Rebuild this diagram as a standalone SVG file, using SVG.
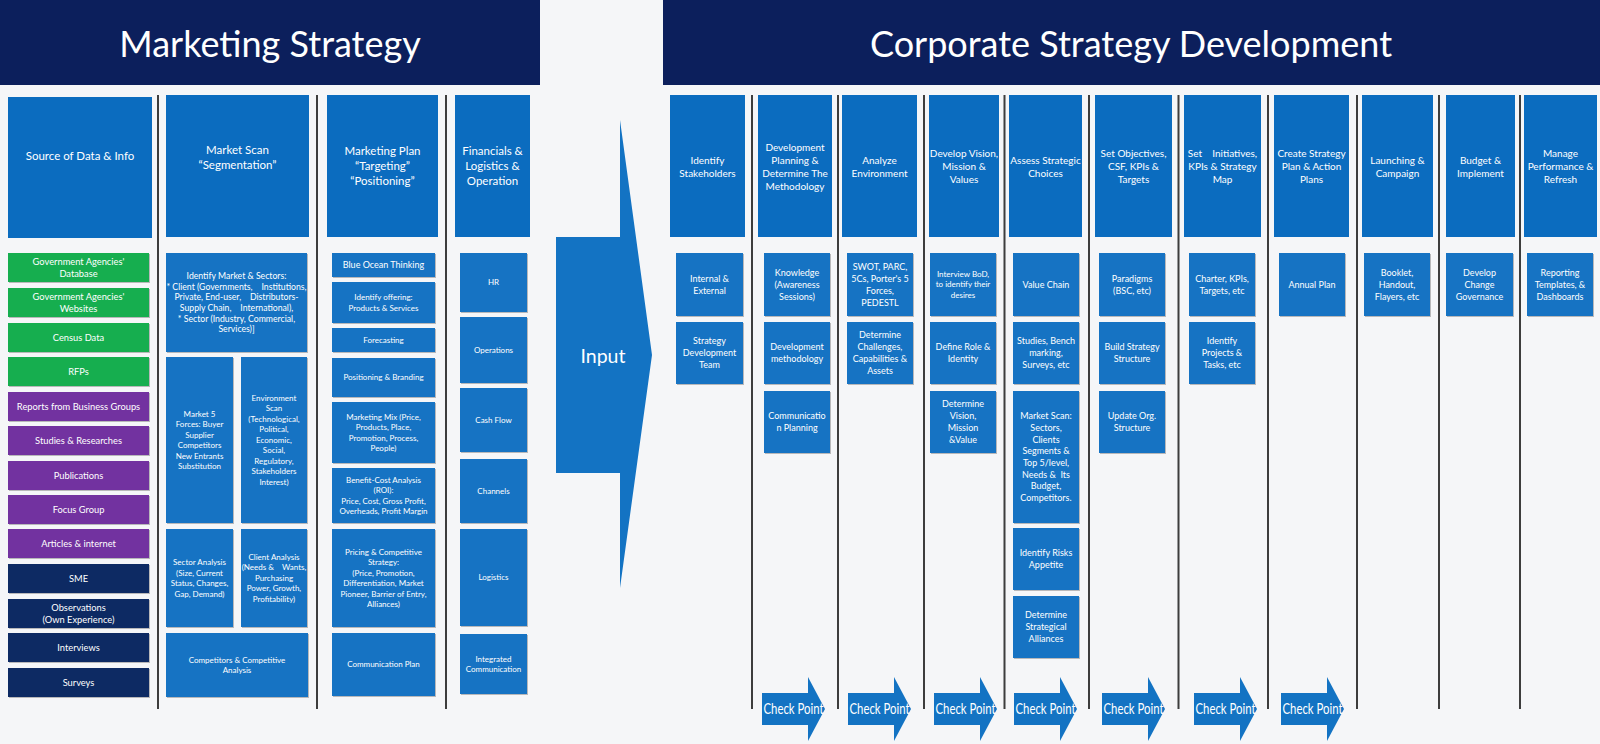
<svg xmlns="http://www.w3.org/2000/svg" width="1600" height="744" viewBox="0 0 1600 744">
<defs>
<style>
.bg{fill:#f5f6f8}
.bar{fill:#0c1f5c}
.hdr{fill:#0b6cbf}
.sub{fill:#1373c3;filter:url(#sh)}
.green{fill:#14ae50;filter:url(#sh)}
.purple{fill:#7232a0;filter:url(#sh)}
.navy{fill:#112b63;filter:url(#sh)}
.arrow{fill:#1373c3}
text{font-family:Lato,"Liberation Sans",sans-serif;fill:#ffffff;text-anchor:middle}
.title{font-size:36px}
.lh{font-size:11.5px}
.ch{font-size:10px}
.s93{font-size:9.3px}
.s87{font-size:8.7px}
.s9{font-size:9px}
.s8{font-size:8px}
.inp{font-size:19.5px}
.cp{font-size:15px}
.sep{stroke:#3d3d3d;stroke-width:2}
</style>
<filter id="sh" x="-5%" y="-5%" width="115%" height="115%">
<feDropShadow dx="1" dy="1" stdDeviation="0.6" flood-color="#000" flood-opacity="0.25"/>
</filter>
<path id="cpArrow" d="M0,16 H46 V0 L63,32 L46,64 V48 H0 Z"/>
</defs>
<rect class="bg" x="0" y="0" width="1600" height="744"/>

<g id="title-marketing"><rect class="bar" x="0" y="0" width="540" height="85"/><text class="title" x="270" y="57">Marketing Strategy</text></g>
<g id="title-corporate"><rect class="bar" x="663" y="0" width="937" height="85"/><text class="title" x="1131" y="57">Corporate Strategy Development</text></g>

<g id="separators">
<line class="sep" x1="158" y1="95" x2="158" y2="709"/>
<line class="sep" x1="317" y1="95" x2="317" y2="709"/>
<line class="sep" x1="446" y1="95" x2="446" y2="709"/>
<line class="sep" x1="752" y1="95" x2="752" y2="709"/>
<line class="sep" x1="838" y1="95" x2="838" y2="709"/>
<line class="sep" x1="924" y1="95" x2="924" y2="709"/>
<line class="sep" x1="1004.5" y1="95" x2="1004.5" y2="709"/>
<line class="sep" x1="1089" y1="95" x2="1089" y2="709"/>
<line class="sep" x1="1178.5" y1="95" x2="1178.5" y2="709"/>
<line class="sep" x1="1268" y1="95" x2="1268" y2="709"/>
<line class="sep" x1="1357" y1="95" x2="1357" y2="709"/>
<line class="sep" x1="1439" y1="95" x2="1439" y2="709"/>
<line class="sep" x1="1520" y1="95" x2="1520" y2="709"/>
</g>

<!-- Marketing column headers -->
<g id="h-source"><rect class="hdr" x="8" y="97" width="144" height="141"/><text class="lh" x="80" y="160">Source of Data &amp; Info</text></g>
<g id="h-marketscan"><rect class="hdr" x="166" y="95" width="143" height="142"/><text class="lh" x="237.5" y="154">Market Scan<tspan x="237.5" dy="15">“Segmentation”</tspan></text></g>
<g id="h-marketingplan"><rect class="hdr" x="327" y="95" width="111" height="142"/><text class="lh" x="382.5" y="155">Marketing Plan<tspan x="382.5" dy="15">“Targeting”</tspan><tspan x="382.5" dy="15">“Positioning”</tspan></text></g>
<g id="h-financials"><rect class="hdr" x="455" y="95" width="75" height="142"/><text class="lh" x="492.5" y="155">Financials &amp;<tspan x="492.5" dy="15">Logistics &amp;</tspan><tspan x="492.5" dy="15">Operation</tspan></text></g>

<!-- Column 1: sources -->
<g id="src-gov-db"><rect class="green" x="8" y="253" width="141" height="29"/><text class="s93" x="78.5" y="264.9">Government Agencies'<tspan x="78.5" dy="11.7">Database</tspan></text></g>
<g id="src-gov-web"><rect class="green" x="8" y="288" width="141" height="29"/><text class="s93" x="78.5" y="299.9">Government Agencies'<tspan x="78.5" dy="11.7">Websites</tspan></text></g>
<g id="src-census"><rect class="green" x="8" y="323" width="141" height="29"/><text class="s93" x="78.5" y="340.8">Census Data</text></g>
<g id="src-rfps"><rect class="green" x="8" y="357" width="141" height="29"/><text class="s93" x="78.5" y="374.8">RFPs</text></g>
<g id="src-reports"><rect class="purple" x="8" y="392" width="141" height="29"/><text class="s93" x="78.5" y="409.8">Reports from Business Groups</text></g>
<g id="src-studies"><rect class="purple" x="8" y="426" width="141" height="29"/><text class="s93" x="78.5" y="443.8">Studies &amp; Researches</text></g>
<g id="src-publications"><rect class="purple" x="8" y="461" width="141" height="29"/><text class="s93" x="78.5" y="478.8">Publications</text></g>
<g id="src-focus"><rect class="purple" x="8" y="495" width="141" height="29"/><text class="s93" x="78.5" y="512.8">Focus Group</text></g>
<g id="src-articles"><rect class="purple" x="8" y="529" width="141" height="29"/><text class="s93" x="78.5" y="546.8">Articles &amp; internet</text></g>
<g id="src-sme"><rect class="navy" x="8" y="564" width="141" height="29"/><text class="s93" x="78.5" y="581.8">SME</text></g>
<g id="src-observations"><rect class="navy" x="8" y="599" width="141" height="29"/><text class="s93" x="78.5" y="610.9">Observations<tspan x="78.5" dy="11.7">(Own Experience)</tspan></text></g>
<g id="src-interviews"><rect class="navy" x="8" y="633" width="141" height="29"/><text class="s93" x="78.5" y="650.8">Interviews</text></g>
<g id="src-surveys"><rect class="navy" x="8" y="668" width="141" height="29"/><text class="s93" x="78.5" y="685.8">Surveys</text></g>

<!-- Column 2: market scan -->
<g id="ms-identify"><rect class="sub" x="166" y="253" width="141" height="99"/><text class="s87" x="236.5" y="278.8">Identify Market &amp; Sectors:<tspan x="236.5" dy="10.7">* Client (Governments,&#160;&#160;&#160; Institutions,</tspan><tspan x="236.5" dy="10.7">Private, End-user,&#160;&#160;&#160; Distributors-</tspan><tspan x="236.5" dy="10.7">Supply Chain,&#160;&#160;&#160; International),</tspan><tspan x="236.5" dy="10.7">* Sector (Industry, Commercial,</tspan><tspan x="236.5" dy="10.7">Services)]</tspan></text></g>
<g id="ms-five-forces"><rect class="sub" x="166" y="357" width="67" height="166"/><text class="s8" x="199.5" y="416.5">Market 5<tspan x="199.5" dy="10.5">Forces: Buyer</tspan><tspan x="199.5" dy="10.5">Supplier</tspan><tspan x="199.5" dy="10.5">Competitors</tspan><tspan x="199.5" dy="10.5">New Entrants</tspan><tspan x="199.5" dy="10.5">Substitution</tspan></text></g>
<g id="ms-env-scan"><rect class="sub" x="241" y="357" width="66" height="166"/><text class="s8" x="274" y="400.8">Environment<tspan x="274" dy="10.5">Scan</tspan><tspan x="274" dy="10.5">(Technological,</tspan><tspan x="274" dy="10.5">Political,</tspan><tspan x="274" dy="10.5">Economic,</tspan><tspan x="274" dy="10.5">Social,</tspan><tspan x="274" dy="10.5">Regulatory,</tspan><tspan x="274" dy="10.5">Stakeholders</tspan><tspan x="274" dy="10.5">Interest)</tspan></text></g>
<g id="ms-sector"><rect class="sub" x="166" y="529" width="67" height="98"/><text class="s8" x="199.5" y="565.1">Sector Analysis<tspan x="199.5" dy="10.5">(Size, Current</tspan><tspan x="199.5" dy="10.5">Status, Changes,</tspan><tspan x="199.5" dy="10.5">Gap, Demand)</tspan></text></g>
<g id="ms-client"><rect class="sub" x="241" y="529" width="66" height="98"/><text class="s8" x="274" y="559.8">Client Analysis<tspan x="274" dy="10.5">(Needs &amp;&#160;&#160;&#160; Wants,</tspan><tspan x="274" dy="10.5">Purchasing</tspan><tspan x="274" dy="10.5">Power, Growth,</tspan><tspan x="274" dy="10.5">Profitability)</tspan></text></g>
<g id="ms-competitors"><rect class="sub" x="166" y="633" width="142" height="64"/><text class="s8" x="237" y="662.6">Competitors &amp; Competitive<tspan x="237" dy="10.5">Analysis</tspan></text></g>

<!-- Column 3: marketing plan -->
<g id="mp-blue-ocean"><rect class="sub" x="332" y="253" width="103" height="24"/><text class="s9" x="383.5" y="268.2">Blue Ocean Thinking</text></g>
<g id="mp-offering"><rect class="sub" x="332" y="282" width="103" height="41"/><text class="s8" x="383.5" y="300">Identify offering:<tspan x="383.5" dy="10.5">Products &amp; Services</tspan></text></g>
<g id="mp-forecasting"><rect class="sub" x="332" y="328" width="103" height="24"/><text class="s8" x="383.5" y="342.8">Forecasting</text></g>
<g id="mp-positioning"><rect class="sub" x="332" y="358" width="103" height="39"/><text class="s8" x="383.5" y="380.3">Positioning &amp; Branding</text></g>
<g id="mp-mix"><rect class="sub" x="332" y="402" width="103" height="61"/><text class="s8" x="383.5" y="419.6">Marketing Mix (Price,<tspan x="383.5" dy="10.5">Products, Place,</tspan><tspan x="383.5" dy="10.5">Promotion, Process,</tspan><tspan x="383.5" dy="10.5">People)</tspan></text></g>
<g id="mp-benefit-cost"><rect class="sub" x="332" y="468" width="103" height="55"/><text class="s8" x="383.5" y="482.6">Benefit-Cost Analysis<tspan x="383.5" dy="10.5">(ROI):</tspan><tspan x="383.5" dy="10.5">Price, Cost, Gross Profit,</tspan><tspan x="383.5" dy="10.5">Overheads, Profit Margin</tspan></text></g>
<g id="mp-pricing"><rect class="sub" x="332" y="529" width="103" height="98"/><text class="s8" x="383.5" y="554.6">Pricing &amp; Competitive<tspan x="383.5" dy="10.5">Strategy:</tspan><tspan x="383.5" dy="10.5">(Price, Promotion,</tspan><tspan x="383.5" dy="10.5">Differentiation, Market</tspan><tspan x="383.5" dy="10.5">Pioneer, Barrier of Entry,</tspan><tspan x="383.5" dy="10.5">Alliances)</tspan></text></g>
<g id="mp-communication"><rect class="sub" x="332" y="633" width="103" height="63"/><text class="s8" x="383.5" y="667.3">Communication Plan</text></g>

<!-- Column 4: financials -->
<g id="fin-hr"><rect class="sub" x="460" y="253" width="67" height="59"/><text class="s8" x="493.5" y="285.3">HR</text></g>
<g id="fin-operations"><rect class="sub" x="460" y="317" width="67" height="66"/><text class="s8" x="493.5" y="352.8">Operations</text></g>
<g id="fin-cashflow"><rect class="sub" x="460" y="388" width="67" height="64"/><text class="s8" x="493.5" y="422.8">Cash Flow</text></g>
<g id="fin-channels"><rect class="sub" x="460" y="459" width="67" height="64"/><text class="s8" x="493.5" y="493.8">Channels</text></g>
<g id="fin-logistics"><rect class="sub" x="460" y="529" width="67" height="97"/><text class="s8" x="493.5" y="580.3">Logistics</text></g>
<g id="fin-integrated"><rect class="sub" x="460" y="634" width="67" height="60"/><text class="s8" x="493.5" y="661.6">Integrated<tspan x="493.5" dy="10.5">Communication</tspan></text></g>

<!-- Input arrow -->
<g id="input"><polygon class="arrow" points="556,237 620,237 620,120 652,355 620,588 620,473 556,473"/><text class="inp" x="603" y="363">Input</text></g>

<!-- Corporate headers -->
<g id="c-stakeholders"><rect class="hdr" x="670" y="95" width="75" height="142"/><text class="ch" x="707.5" y="163.5">Identify<tspan x="707.5" dy="13">Stakeholders</tspan></text></g>
<g id="c-devplanning"><rect class="hdr" x="758" y="95" width="74" height="142"/><text class="ch" x="795" y="150.5">Development<tspan x="795" dy="13">Planning &amp;</tspan><tspan x="795" dy="13">Determine The</tspan><tspan x="795" dy="13">Methodology</tspan></text></g>
<g id="c-analyze"><rect class="hdr" x="842" y="95" width="75" height="142"/><text class="ch" x="879.5" y="163.5">Analyze<tspan x="879.5" dy="13">Environment</tspan></text></g>
<g id="c-vision"><rect class="hdr" x="929" y="95" width="70" height="142"/><text class="ch" x="964" y="157">Develop Vision,<tspan x="964" dy="13">Mission &amp;</tspan><tspan x="964" dy="13">Values</tspan></text></g>
<g id="c-assess"><rect class="hdr" x="1009" y="95" width="73" height="142"/><text class="ch" x="1045.5" y="163.5">Assess Strategic<tspan x="1045.5" dy="13">Choices</tspan></text></g>
<g id="c-objectives"><rect class="hdr" x="1095" y="95" width="77" height="142"/><text class="ch" x="1133.5" y="157">Set Objectives,<tspan x="1133.5" dy="13">CSF, KPIs &amp;</tspan><tspan x="1133.5" dy="13">Targets</tspan></text></g>
<g id="c-initiatives"><rect class="hdr" x="1184" y="95" width="77" height="142"/><text class="ch" x="1222.5" y="157">Set&#160;&#160;&#160; Initiatives,<tspan x="1222.5" dy="13">KPIs &amp; Strategy</tspan><tspan x="1222.5" dy="13">Map</tspan></text></g>
<g id="c-plan"><rect class="hdr" x="1274" y="95" width="75" height="142"/><text class="ch" x="1311.5" y="157">Create Strategy<tspan x="1311.5" dy="13">Plan &amp; Action</tspan><tspan x="1311.5" dy="13">Plans</tspan></text></g>
<g id="c-launching"><rect class="hdr" x="1362" y="95" width="71" height="142"/><text class="ch" x="1397.5" y="163.5">Launching &amp;<tspan x="1397.5" dy="13">Campaign</tspan></text></g>
<g id="c-budget"><rect class="hdr" x="1446" y="95" width="69" height="142"/><text class="ch" x="1480.5" y="163.5">Budget &amp;<tspan x="1480.5" dy="13">Implement</tspan></text></g>
<g id="c-manage"><rect class="hdr" x="1524" y="95" width="73" height="142"/><text class="ch" x="1560.5" y="157">Manage<tspan x="1560.5" dy="13">Performance &amp;</tspan><tspan x="1560.5" dy="13">Refresh</tspan></text></g>

<!-- Corporate sub items -->
<g id="cs-internal"><rect class="sub" x="676" y="253" width="67" height="63"/><text class="s9" x="709.5" y="281.7">Internal &amp;<tspan x="709.5" dy="12">External</tspan></text></g>
<g id="cs-team"><rect class="sub" x="676" y="322" width="67" height="62"/><text class="s9" x="709.5" y="344.2">Strategy<tspan x="709.5" dy="12">Development</tspan><tspan x="709.5" dy="12">Team</tspan></text></g>
<g id="cs-knowledge"><rect class="sub" x="764" y="253" width="66" height="63"/><text class="s9" x="797" y="275.7">Knowledge<tspan x="797" dy="12">(Awareness</tspan><tspan x="797" dy="12">Sessions)</tspan></text></g>
<g id="cs-methodology"><rect class="sub" x="764" y="322" width="66" height="62"/><text class="s9" x="797" y="350.2">Development<tspan x="797" dy="12">methodology</tspan></text></g>
<g id="cs-commplanning"><rect class="sub" x="764" y="391" width="66" height="62"/><text class="s9" x="797" y="419.2">Communicatio<tspan x="797" dy="12">n Planning</tspan></text></g>
<g id="cs-swot"><rect class="sub" x="847" y="253" width="66" height="63"/><text class="s9" x="880" y="269.7">SWOT, PARC,<tspan x="880" dy="12">5Cs, Porter's 5</tspan><tspan x="880" dy="12">Forces,</tspan><tspan x="880" dy="12">PEDESTL</tspan></text></g>
<g id="cs-challenges"><rect class="sub" x="847" y="322" width="66" height="62"/><text class="s9" x="880" y="338.2">Determine<tspan x="880" dy="12">Challenges,</tspan><tspan x="880" dy="12">Capabilities &amp;</tspan><tspan x="880" dy="12">Assets</tspan></text></g>
<g id="cs-interview"><rect class="sub" x="930" y="253" width="66" height="63"/><text class="s8" x="963" y="276.6">Interview BoD,<tspan x="963" dy="10.7">to identify their</tspan><tspan x="963" dy="10.7">desires</tspan></text></g>
<g id="cs-role"><rect class="sub" x="930" y="322" width="66" height="62"/><text class="s9" x="963" y="350.2">Define Role &amp;<tspan x="963" dy="12">Identity</tspan></text></g>
<g id="cs-vision"><rect class="sub" x="930" y="391" width="66" height="62"/><text class="s9" x="963" y="407.2">Determine<tspan x="963" dy="12">Vision,</tspan><tspan x="963" dy="12">Mission</tspan><tspan x="963" dy="12">&amp;Value</tspan></text></g>
<g id="cs-valuechain"><rect class="sub" x="1013" y="253" width="66" height="63"/><text class="s9" x="1046" y="287.7">Value Chain</text></g>
<g id="cs-studies"><rect class="sub" x="1013" y="322" width="66" height="62"/><text class="s9" x="1046" y="344.2">Studies, Bench<tspan x="1046" dy="12">marking,</tspan><tspan x="1046" dy="12">Surveys, etc</tspan></text></g>
<g id="cs-marketscan"><rect class="sub" x="1013" y="391" width="66" height="132"/><text class="s9" x="1046" y="419.2">Market Scan:<tspan x="1046" dy="11.7">Sectors,</tspan><tspan x="1046" dy="11.7">Clients</tspan><tspan x="1046" dy="11.7">Segments &amp;</tspan><tspan x="1046" dy="11.7">Top 5/level,</tspan><tspan x="1046" dy="11.7">Needs &amp;&#160; Its</tspan><tspan x="1046" dy="11.7">Budget,</tspan><tspan x="1046" dy="11.7">Competitors.</tspan></text></g>
<g id="cs-risks"><rect class="sub" x="1013" y="528" width="66" height="62"/><text class="s9" x="1046" y="556.2">Identify Risks<tspan x="1046" dy="12">Appetite</tspan></text></g>
<g id="cs-alliances"><rect class="sub" x="1013" y="596" width="66" height="62"/><text class="s9" x="1046" y="618.2">Determine<tspan x="1046" dy="12">Strategical</tspan><tspan x="1046" dy="12">Alliances</tspan></text></g>
<g id="cs-paradigms"><rect class="sub" x="1099" y="253" width="66" height="63"/><text class="s9" x="1132" y="281.7">Paradigms<tspan x="1132" dy="12">(BSC, etc)</tspan></text></g>
<g id="cs-structure"><rect class="sub" x="1099" y="322" width="66" height="62"/><text class="s9" x="1132" y="350.2">Build Strategy<tspan x="1132" dy="12">Structure</tspan></text></g>
<g id="cs-org"><rect class="sub" x="1099" y="391" width="66" height="62"/><text class="s9" x="1132" y="419.2">Update Org.<tspan x="1132" dy="12">Structure</tspan></text></g>
<g id="cs-charter"><rect class="sub" x="1189" y="253" width="66" height="63"/><text class="s9" x="1222" y="281.7">Charter, KPIs,<tspan x="1222" dy="12">Targets, etc</tspan></text></g>
<g id="cs-projects"><rect class="sub" x="1189" y="322" width="66" height="62"/><text class="s9" x="1222" y="344.2">Identify<tspan x="1222" dy="12">Projects &amp;</tspan><tspan x="1222" dy="12">Tasks, etc</tspan></text></g>
<g id="cs-annual"><rect class="sub" x="1279" y="253" width="66" height="63"/><text class="s9" x="1312" y="287.7">Annual Plan</text></g>
<g id="cs-booklet"><rect class="sub" x="1364" y="253" width="66" height="63"/><text class="s9" x="1397" y="275.7">Booklet,<tspan x="1397" dy="12">Handout,</tspan><tspan x="1397" dy="12">Flayers, etc</tspan></text></g>
<g id="cs-governance"><rect class="sub" x="1446" y="253" width="67" height="63"/><text class="s9" x="1479.5" y="275.7">Develop<tspan x="1479.5" dy="12">Change</tspan><tspan x="1479.5" dy="12">Governance</tspan></text></g>
<g id="cs-reporting"><rect class="sub" x="1527" y="253" width="66" height="63"/><text class="s9" x="1560" y="275.7">Reporting<tspan x="1560" dy="12">Templates, &amp;</tspan><tspan x="1560" dy="12">Dashboards</tspan></text></g>

<!-- Check Point arrows -->
<g id="connectors">
<g id="cp-1"><use href="#cpArrow" class="arrow" x="762" y="677"/><text class="cp" x="793.5" y="714" textLength="60" lengthAdjust="spacingAndGlyphs">Check Point</text></g>
<g id="cp-2"><use href="#cpArrow" class="arrow" x="848" y="677"/><text class="cp" x="879.5" y="714" textLength="60" lengthAdjust="spacingAndGlyphs">Check Point</text></g>
<g id="cp-3"><use href="#cpArrow" class="arrow" x="934" y="677"/><text class="cp" x="965.5" y="714" textLength="60" lengthAdjust="spacingAndGlyphs">Check Point</text></g>
<g id="cp-4"><use href="#cpArrow" class="arrow" x="1014" y="677"/><text class="cp" x="1045.5" y="714" textLength="60" lengthAdjust="spacingAndGlyphs">Check Point</text></g>
<g id="cp-5"><use href="#cpArrow" class="arrow" x="1102" y="677"/><text class="cp" x="1133.5" y="714" textLength="60" lengthAdjust="spacingAndGlyphs">Check Point</text></g>
<g id="cp-6"><use href="#cpArrow" class="arrow" x="1194" y="677"/><text class="cp" x="1225.5" y="714" textLength="60" lengthAdjust="spacingAndGlyphs">Check Point</text></g>
<g id="cp-7"><use href="#cpArrow" class="arrow" x="1281" y="677"/><text class="cp" x="1312.5" y="714" textLength="60" lengthAdjust="spacingAndGlyphs">Check Point</text></g>
</g>
</svg>
